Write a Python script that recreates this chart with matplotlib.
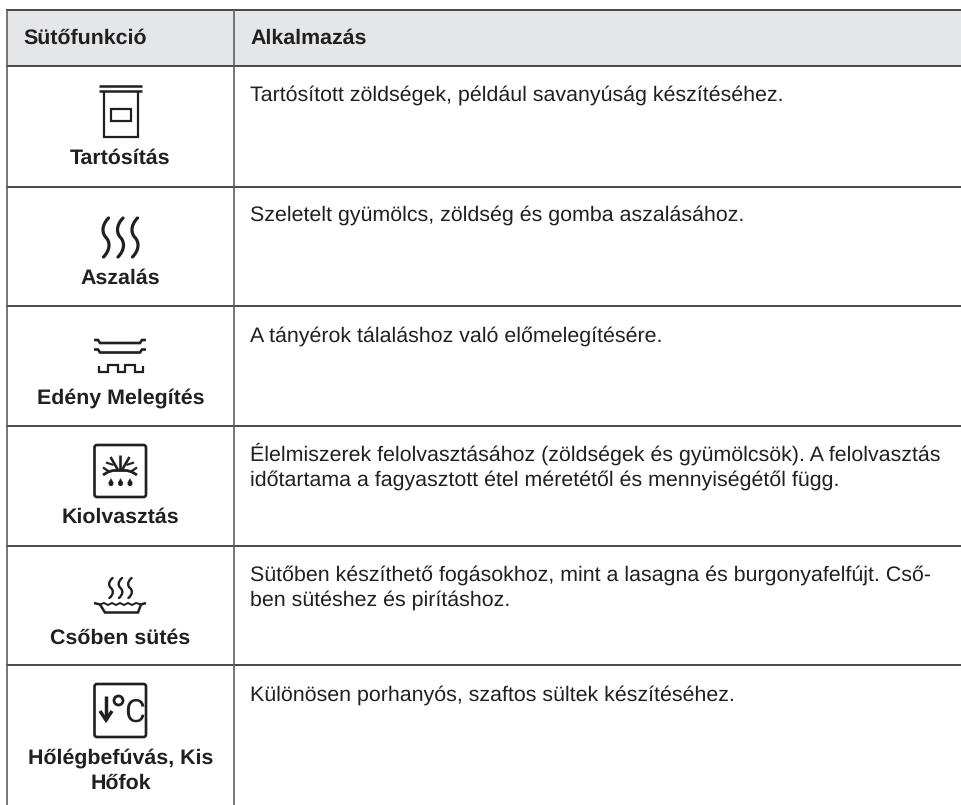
import matplotlib
matplotlib.use('Agg')
import matplotlib.pyplot as plt
from matplotlib.patches import Circle, FancyBboxPatch, PathPatch, Polygon, Rectangle
from matplotlib.path import Path

plt.rcParams['text.hinting'] = 'no_hinting'
plt.rcParams['text.hinting_factor'] = 8

headers = ['Sütőfunkció', 'Alkalmazás']
functions = [['Tartósítás'], ['Aszalás'], ['Edény Melegítés'], ['Kiolvasztás'],
             ['Csőben sütés'], ['Hőlégbefúvás, Kis', 'Hőfok']]
uses = [
    ['Tartósított zöldségek, például savanyúság készítéséhez.'],
    ['Szeletelt gyümölcs, zöldség és gomba aszalásához.'],
    ['A tányérok tálaláshoz való előmelegítésére.'],
    ['Élelmiszerek felolvasztásához (zöldségek és gyümölcsök). A felolvasztás',
     'időtartama a fagyasztott étel méretétől és mennyiségétől függ.'],
    ['Sütőben készíthető fogásokhoz, mint a lasagna és burgonyafelfújt. Cső-',
     'ben sütéshez és pirításhoz.'],
    ['Különösen porhanyós, szaftos sültek készítéséhez.'],
]

# layout, all in image pixels
W, H = 961, 805
LEFT, MID = 7, 234
HEAD_TOP, HEAD_BOTTOM = 10, 66.5
ROW_LINES = [187, 306.5, 426, 546, 665]
LABEL_BASE = [164, 284, 404, 523, 644, 764]
USE_BASE = [101, 221, 342, 461, 581, 701]
INK = '#231f20'
FONT = 'Liberation Sans'
FS = 15.4
FS_BOLD = 15.4

fig = plt.figure(figsize=(W / 100, H / 100), dpi=100)
ax = fig.add_axes([0, 0, 1, 1])
ax.set_xlim(0, W)
ax.set_ylim(H, 0)
ax.axis('off')


def seg(xs, ys, lw=1.6, color=INK):
    ax.plot(xs, ys, color=color, lw=lw, solid_capstyle='butt', solid_joinstyle='miter')


def wave(cx, top, bottom, amp, lw=1.8):
    # one S shaped heat wave
    h = bottom - top
    verts = [(cx + amp * 0.6, top),
             (cx - amp * 1.2, top + h * 0.2), (cx - amp * 0.9, top + h * 0.4), (cx, top + h * 0.5),
             (cx + amp * 0.9, top + h * 0.6), (cx + amp * 1.2, top + h * 0.8), (cx - amp * 0.6, bottom)]
    codes = [Path.MOVETO] + [Path.CURVE4] * 6
    ax.add_patch(PathPatch(Path(verts, codes), fill=False, ec=INK, lw=lw, capstyle='round'))


def box(x0, y0, x1, y1):
    ax.add_patch(FancyBboxPatch((x0 + 2, y0 + 2), x1 - x0 - 4, y1 - y0 - 4,
                                boxstyle='round,pad=2,rounding_size=2.5',
                                fill=False, ec=INK, lw=1.9))


def drop(cx, cy):
    ax.add_patch(Polygon([(cx, cy - 4.5), (cx - 2.4, cy), (cx + 2.4, cy)], fc=INK, ec=INK, lw=0.3))
    ax.add_patch(Circle((cx, cy + 0.7), 2.4, fc=INK, ec='none'))


def icon_preserve():
    seg([99, 142], [86, 86], 1.8)
    seg([99, 142], [90.7, 90.7], 1.8)
    seg([103.5, 103.5, 138, 138], [91, 137.5, 137.5, 91], 1.6)
    ax.add_patch(Rectangle((110.5, 109.5), 20.5, 11.5, fill=False, ec=INK, lw=1.6))


def icon_dry():
    for cx in [106, 120.5, 135]:
        wave(cx, 218, 257, 4.2, 2.3)


def icon_plates():
    for y in [340, 349.5]:
        seg([94, 98, 100, 140, 142, 146], [y, y, y + 3, y + 3, y, y], 1.9)
    seg([98.5, 98.5, 108, 108, 118, 118, 125, 125, 135, 135, 143, 143],
        [366, 372, 372, 365, 365, 372, 372, 365, 365, 372, 372, 366], 1.6)


def icon_defrost():
    box(94.5, 445, 146, 497)
    seg([103, 108, 113, 127, 132, 137], [475, 472, 470.5, 470.5, 472, 475], 2.0)
    seg([103, 109], [467.5, 471.5], 1.6)
    seg([137, 131], [467.5, 471.5], 1.6)
    seg([120, 120], [470, 454.5], 1.9)
    seg([118, 110.5], [470, 457], 1.9)
    seg([122, 129.5], [470, 457], 1.9)
    seg([113.5, 106], [465, 462.5], 1.5)
    seg([126.5, 134], [465, 462.5], 1.5)
    for cx in [111, 120.5, 130]:
        drop(cx, 483)


def icon_gratin():
    for cx in [111, 120.5, 130]:
        wave(cx, 578, 598, 2.6, 1.7)
    seg([94, 100, 105, 138, 141, 146], [603, 604.5, 612.5, 612.5, 604.5, 603], 1.8)
    xs = [100, 104, 108, 112, 116, 120, 124, 128, 132, 136, 141]
    ys = [604.5, 603, 605, 603, 605, 603, 605, 603, 605, 603, 604.5]
    seg(xs, ys, 1.4)


def icon_lowtemp():
    box(94.5, 684, 146, 737)
    seg([106, 106], [696, 720], 2.5)
    seg([100, 106, 112], [711, 720, 711], 2.5)
    ax.add_patch(Circle((118.5, 700.5), 4.5, fill=False, ec=INK, lw=2.0))
    ax.text(134.5, 721.5, 'C', family='Roboto', fontsize=23, color=INK,
            ha='center', va='baseline')


# header band and rules
ax.add_patch(Rectangle((LEFT, HEAD_TOP), W - LEFT, HEAD_BOTTOM - HEAD_TOP, fc='#e4e6e7', ec='none'))
for y in [HEAD_TOP, HEAD_BOTTOM] + ROW_LINES:
    seg([LEFT - 0.8, W], [y, y], 1.3, '#3a3a3a')
for x in [LEFT, MID]:
    seg([x, x], [HEAD_TOP, H], 1.2, '#5f5f5f')

ax.text(23, 44, headers[0], family=FONT, fontsize=FS_BOLD, weight='bold', color=INK, va='baseline')
ax.text(250, 44, headers[1], family=FONT, fontsize=FS_BOLD, weight='bold', color=INK, va='baseline')

for name_lines, base in zip(functions, LABEL_BASE):
    for i, line in enumerate(name_lines):
        ax.text(120.5, base + i * 25, line, family=FONT, fontsize=FS_BOLD, weight='bold',
                color=INK, ha='center', va='baseline')

for use_lines, base in zip(uses, USE_BASE):
    for i, line in enumerate(use_lines):
        ax.text(250, base + i * 25, line, family=FONT, fontsize=FS, color=INK, va='baseline')

icon_preserve()
icon_dry()
icon_plates()
icon_defrost()
icon_gratin()
icon_lowtemp()

fig.savefig('out.png', dpi=100, facecolor='white')
